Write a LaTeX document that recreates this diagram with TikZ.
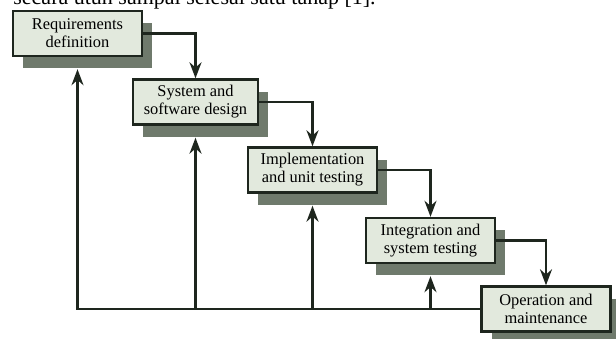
\documentclass[tikz,border=0pt]{standalone}
\usepackage{fontspec}
\setmainfont{Liberation Serif}
\usetikzlibrary{arrows.meta,shadows}
\definecolor{stagefill}{HTML}{E2E9DD}
\definecolor{stageshade}{HTML}{6F7A6C}
\definecolor{stageline}{HTML}{1E261E}
\tikzset{
  stage/.style ={draw=stageline, line width=1.2pt, fill=stagefill,
                 minimum width=64.5pt, minimum height=22.5pt, inner sep=1pt,
                 align=center, font=\fontsize{8.2}{9}\selectfont,
                 drop shadow={shadow xshift=5pt, shadow yshift=-6pt,
                              fill=stageshade, opacity=1}},
  flow/.style  ={-{Stealth[length=8pt, width=6pt, inset=2.6pt]},
                 line width=1.2pt, stageline},
  capt/.style  ={font=\fontsize{11}{13}\selectfont, anchor=base west,
                 inner sep=0pt},
}
\begin{document}
\begin{tikzpicture}[x=0.5pt,y=-0.5pt]
  \useasboundingbox (0,0) rectangle (616,338);
  \clip (0,0) rectangle (616,338);
  % ---- running text cut off above the figure
  \node[capt] (head) at (13,4.5) {secara utuh sampai selesai satu tahap [1].};
  % ---- the five stages, stepping down
  \node[stage] (req) at (77.5,33.5) {Requirements\\definition};
  \node[stage, minimum width=62.5pt] (des) at (195.5,102) {System and\\software design};
  \node[stage] (imp) at (312.5,170) {Implementation\\and unit testing};
  \node[stage] (itg) at (430.5,240.5) {Integration and\\system testing};
  \node[stage] (ops) at (546,309) {Operation and\\maintenance};
  % ---- forward flow
  \draw[flow] (req.east) -| (des.north);
  \draw[flow] (des.east) -| (imp.north);
  \draw[flow] (imp.east) -| (itg.north);
  \draw[flow] (itg.east) -| (ops.north);
  % ---- feedback back up to every stage
  \draw[flow] (ops.west) -| ([yshift=-6pt]req.south);
  \draw[flow] (des.south |- ops.west) -- ([yshift=-6pt]des.south);
  \draw[flow] (imp.south |- ops.west) -- ([yshift=-6pt]imp.south);
  \draw[flow] (itg.south |- ops.west) -- ([yshift=-6pt]itg.south);
\end{tikzpicture}
\end{document}
